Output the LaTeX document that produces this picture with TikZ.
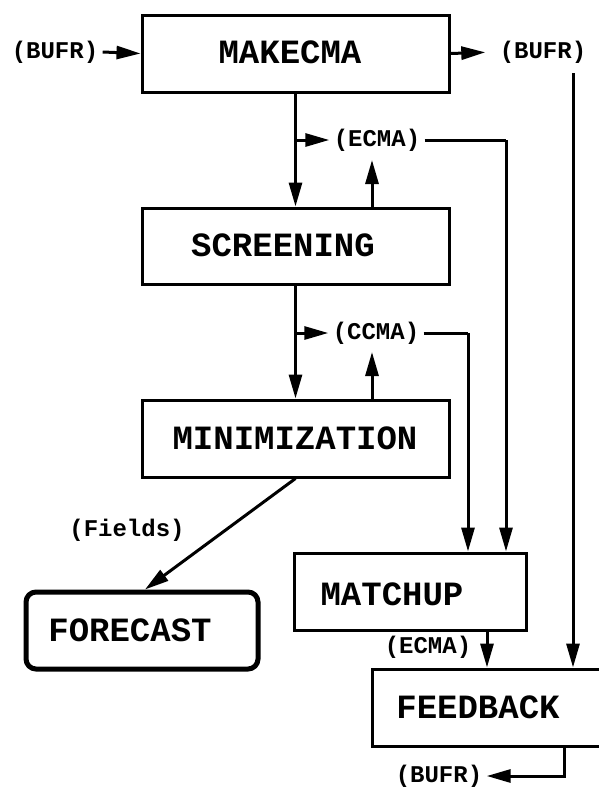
\documentclass[tikz,border=0pt]{standalone}
\usepackage{fontspec}
\setmonofont{Liberation Mono}
\usetikzlibrary{arrows.meta}
\begin{document}
\begin{tikzpicture}[x=1pt,y=-1pt,
  line width=3pt,
  box/.style={draw,rectangle,minimum height=77pt,inner sep=0pt},
  boxtext/.style={font=\fontsize{34}{36}\selectfont\ttfamily\bfseries,inner sep=0pt},
  lab/.style={font=\fontsize{24}{26}\selectfont\ttfamily\bfseries,inner sep=3pt},
  arr/.style={-{Triangle[length=24pt,width=13pt]}}]
\useasboundingbox (0,0) rectangle (598,788);
% boxes
\node[box,minimum width=307pt] (mk) at (295.5,53.5) {};
\node[box,minimum width=307pt,minimum height=76pt] (sc) at (295.5,246) {};
\node[box,minimum width=307pt] (mn) at (295.5,438.5) {};
\node[box,minimum width=232pt,rounded corners=10pt,line width=5pt] (fc) at (142,630.5) {};
\node[box,minimum width=232pt] (mu) at (410,591.5) {};
\node[box,minimum width=232pt] (fb) at (488,707.5) {};
% box texts
\node[boxtext] (tmk) at (290,52) {MAKECMA};
\node[boxtext] (tsc) at (283,245) {SCREENING};
\node[boxtext] (tmn) at (295,438) {MINIMIZATION};
\node[boxtext] (tfc) at (130,630) {FORECAST};
\node[boxtext] (tmu) at (392,594) {MATCHUP};
\node[boxtext] (tfb) at (478,707) {FEEDBACK};
% labels
\node[lab] (bi) at (55,52) {(BUFR)};
\node[lab] (bo) at (543,52) {(BUFR)};
\node[lab] (e1) at (377,140) {(ECMA)};
\node[lab] (c1) at (376,333) {(CCMA)};
\node[lab] (fl) at (127,530) {(Fields)};
\node[lab] (e2) at (428,647) {(ECMA)};
\node[lab] (bb) at (439,776) {(BUFR)};
% coordinates
\coordinate (b1) at (295.5,140);
\coordinate (b2) at (295.5,333);
\coordinate (u1) at (372,160);
\coordinate (u2) at (372,352);
\coordinate (v1) at (573,73);
\coordinate (r1) at (506,140);
\coordinate (r2) at (468,333);
\coordinate (fo) at (564,746);
% connectors
\draw[arr] (bi.east) -- (mk.west);
\draw[arr,shorten >=10pt] (mk.east) -- (bo.west);
\draw[arr] (v1) -- (v1 |- fb.north);
\draw[arr] (mk.south) -- (sc.north);
\draw[arr] (b1) -- (e1.west);
\draw (e1.east) -- (r1);
\draw[arr] (r1) -- (r1 |- mu.north);
\draw[arr] (u1 |- sc.north) -- (u1);
\draw[arr] (sc.south) -- (mn.north);
\draw[arr] (b2) -- (c1.west);
\draw (c1.east) -- (r2);
\draw[arr] (r2) -- (r2 |- mu.north);
\draw[arr] (u2 |- mn.north) -- (u2);
\draw[arr] (mn.south) -- ([xshift=3pt]fc.north);
\draw[arr] ([xshift=77pt]mu.south) -- ([xshift=-1pt]fb.north);
\draw[arr] (fo) |- (bb.east);
\end{tikzpicture}
\end{document}
